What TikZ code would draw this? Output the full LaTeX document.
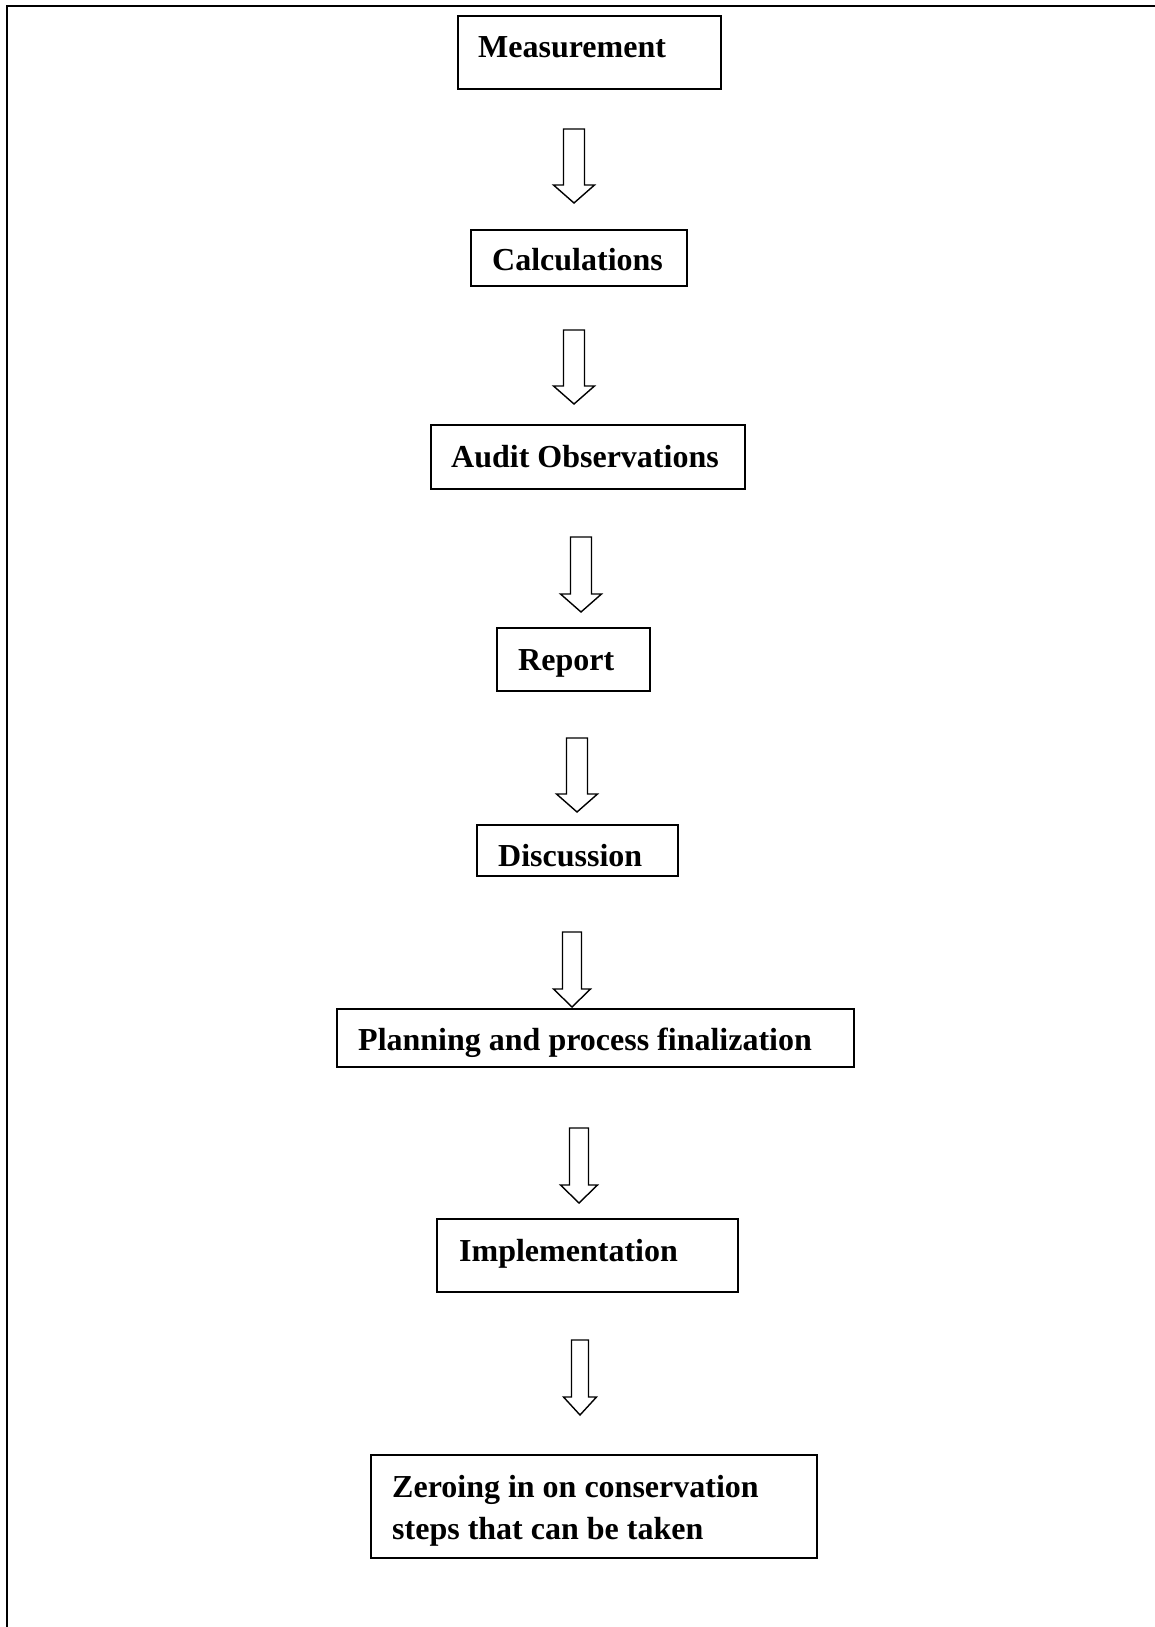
\documentclass[tikz,border=0pt]{standalone}
\usepackage{fontspec}
\setmainfont{Liberation Serif}
\begin{document}
\begin{tikzpicture}[x=1pt,y=-1pt,
  box/.style={draw, line width=1.8pt, inner sep=0pt, outer sep=0pt, anchor=north west},
  lbl/.style={anchor=base west, inner sep=0pt, font=\fontsize{32}{42}\selectfont\bfseries},
  frame/.style={line width=2.6pt},
  blk/.style={draw, line width=1.4pt, line join=miter, fill=white}]
\useasboundingbox (0,0) rectangle (1155,1627);
\draw[frame] (1155,6) -- (7,6) -- (7,1627);
% arrow: cx, top, tip, shaft width, head width
\newcommand\blkarrow[5]{%
  \draw[blk] ({#1-#4/2},#2) -- ({#1+#4/2},#2) -- ({#1+#4/2},{#3-18}) -- ({#1+#5/2},{#3-18})
    -- (#1,#3) -- ({#1-#5/2},{#3-18}) -- ({#1-#4/2},{#3-18}) -- cycle;}
% boxes
\node[box, minimum width=263pt, minimum height=73pt] (b1) at (458,16) {};
\node[box, minimum width=216pt, minimum height=56pt] (b2) at (471,230) {};
\node[box, minimum width=314pt, minimum height=64pt] (b3) at (431,425) {};
\node[box, minimum width=153pt, minimum height=63pt] (b4) at (497,628) {};
\node[box, minimum width=201pt, minimum height=51pt] (b5) at (477,825) {};
\node[box, minimum width=517pt, minimum height=58pt] (b6) at (337,1009) {};
\node[box, minimum width=301pt, minimum height=73pt] (b7) at (437,1219) {};
\node[box, minimum width=446pt, minimum height=103pt] (b8) at (371,1455) {};
% texts
\node[lbl] (t1) at (478,58) {Measurement};
\node[lbl] (t2) at (492,270) {Calculations};
\node[lbl] (t3) at (451,467) {Audit Observations};
\node[lbl] (t4) at (518,670) {Report};
\node[lbl] (t5) at (498,866) {Discussion};
\node[lbl] (t6) at (358,1050) {Planning and process finalization};
\node[lbl] (t7) at (459,1261) {Implementation};
\node[lbl] (t8a) at (392,1497) {Zeroing in on conservation};
\node[lbl] (t8b) at (392,1539) {steps that can be taken};
% arrows
\blkarrow{574}{129}{203}{21}{41}
\blkarrow{574}{330}{404}{21}{41}
\blkarrow{581}{537}{612}{21}{41}
\blkarrow{577}{738}{812}{21}{41}
\blkarrow{572}{932}{1007}{19}{37}
\blkarrow{579}{1128}{1203}{19}{37}
\blkarrow{580}{1340}{1415}{17}{33}
\end{tikzpicture}
\end{document}
